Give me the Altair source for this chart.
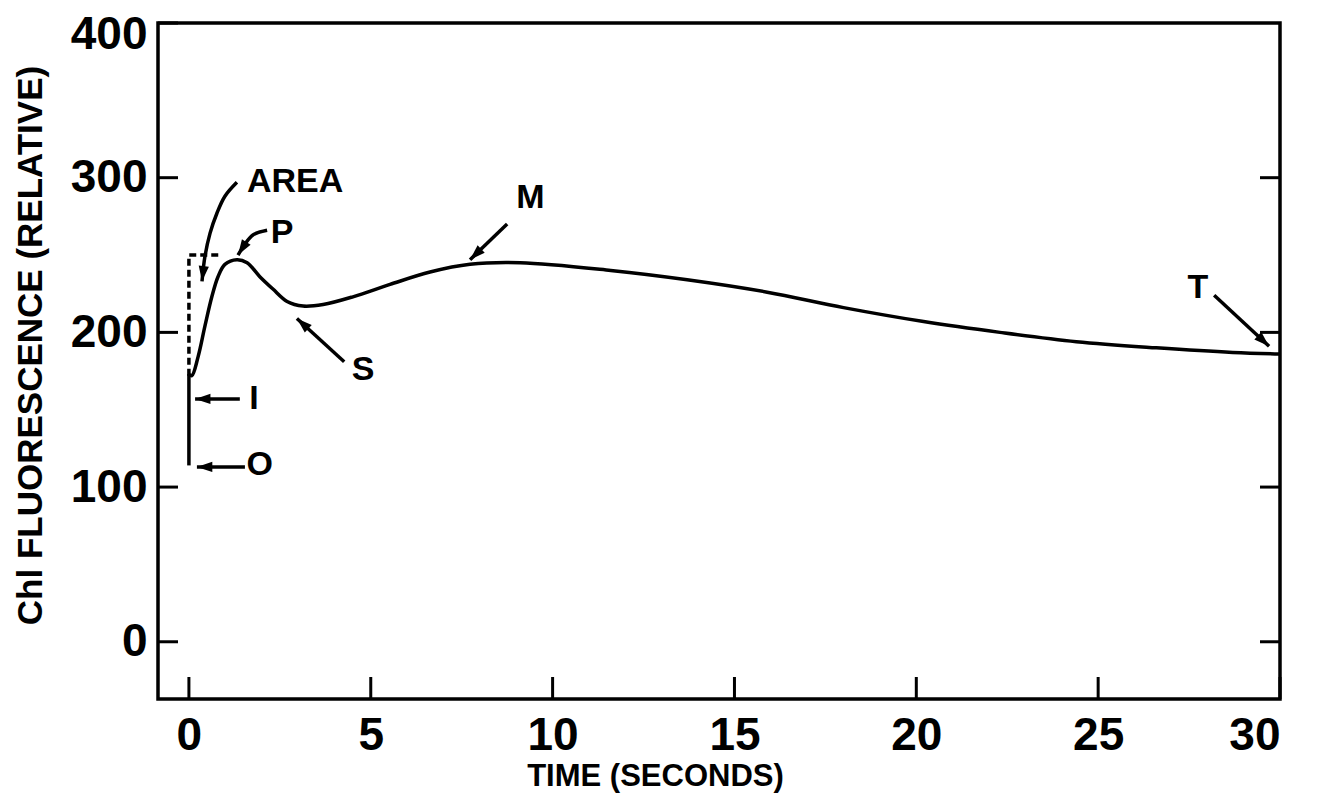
import math
import altair as alt
import pandas as pd

# ---- data ----
# O -> I rise (straight, at t = 0)
oi_t = [0.0, 0.0]
oi_v = [114, 173]
# I -> P -> S -> M -> T
time_s = [0.0, 0.08, 0.25, 0.44, 0.63, 0.80, 0.99, 1.32, 1.60, 1.95, 2.31, 2.70,
          3.14, 3.69, 4.51, 5.53, 6.63, 7.73, 9.11, 11.6, 13.7, 15.9, 18.0, 20.2,
          22.3, 24.4, 26.6, 28.7, 30.0]
fluor = [173, 172, 184, 204, 223, 236, 244, 247, 245, 236, 228, 220,
         217, 218, 223, 231, 239, 244, 245, 240, 234, 226, 216, 207,
         200, 194, 190, 187, 186]

area_t = [0.0, 0.0, 0.9]
area_v = [172, 250, 250]

x_ticks = [0, 5, 10, 15, 20, 25, 30]
y_ticks = [0, 100, 200, 300, 400]
y_ticks_right = [0, 100, 200, 300]

label_text = ["AREA", "P", "M", "S", "I", "O", "T"]
label_t = [2.92, 2.56, 9.39, 4.79, 1.79, 1.95, 27.74]
label_v = [297, 264, 287, 176, 157, 114, 229]

arrow_id = ["AREA"] * 6 + ["P"] * 4 + ["M"] * 2 + ["S"] * 2 + ["I"] * 2 + ["O"] * 2 + ["T"] * 2
arrow_t = [1.32, 0.99, 0.77, 0.58, 0.44, 0.36,
           2.15, 1.76, 1.54, 1.35,
           8.75, 7.73,
           4.27, 2.97,
           1.40, 0.17,
           1.54, 0.22,
           28.19, 29.70]
arrow_v = [297, 288, 277, 264, 249, 233,
           266, 263, 257, 250,
           270, 247,
           181, 209,
           157, 157,
           113, 113,
           224, 191]

# ---- layout ----
W, H = 1122, 676
XD = [-0.85, 30]
YD = [-37, 400]
sx = W / (XD[1] - XD[0])
sy = H / (YD[1] - YD[0])
FONT = "Liberation Sans"

oi_df = pd.DataFrame({"t": oi_t, "v": oi_v, "o": range(len(oi_t))})
curve_df = pd.DataFrame({"t": time_s, "v": fluor, "o": range(len(time_s))})
area_df = pd.DataFrame({"t": area_t, "v": area_v, "o": range(len(area_t))})
arrow_df = pd.DataFrame({"id": arrow_id, "t": arrow_t, "v": arrow_v, "o": range(len(arrow_t))})
label_df = pd.DataFrame({"text": label_text, "t": label_t, "v": label_v})

heads = []
for k in dict.fromkeys(arrow_id):
    sub = arrow_df[arrow_df.id == k]
    t1, v1 = sub.t.iloc[-2], sub.v.iloc[-2]
    t2, v2 = sub.t.iloc[-1], sub.v.iloc[-1]
    dx = (t2 - t1) * sx
    dy = -(v2 - v1) * sy
    ang = math.degrees(math.atan2(dx, -dy)) % 360
    heads.append({"id": k, "t": t2, "v": v2, "ang": ang})
head_df = pd.DataFrame(heads)

xs = alt.Scale(domain=XD, nice=False, zero=False)
ys = alt.Scale(domain=YD, nice=False, zero=False)

base_x = alt.X("t:Q", scale=xs, axis=alt.Axis(
    values=x_ticks, ticks=False, domain=False, grid=False, labelPadding=14,
    labelFontSize=46, labelFont=FONT, labelFontWeight="bold", labelColor="black",
    title="TIME (SECONDS)", titleFont=FONT, titleFontSize=31, titleFontWeight="bold",
    titleColor="black", titleX=497, titleY=86, titleBaseline="alphabetic", titleAlign="center"))
base_y = alt.Y("v:Q", scale=ys, axis=alt.Axis(
    values=y_ticks, ticks=False, domain=False, grid=False, labelPadding=11,
    labelOffset={"condition": {"test": "datum.value == 400", "value": 11}, "value": 0},
    labelFontSize=46, labelFont=FONT, labelFontWeight="bold", labelColor="black",
    title="Chl FLUORESCENCE (RELATIVE)", titleFont=FONT, titleFontSize=35,
    titleFontWeight="bold", titleColor="black", titleAngle=270, titleX=-128, titleY=322,
    titleAlign="center", titleBaseline="middle"))

oi_line = alt.Chart(oi_df).mark_line(color="black", strokeWidth=3.5).encode(
    x=base_x, y=base_y, order="o:Q")

curve = alt.Chart(curve_df).mark_line(color="black", strokeWidth=3.5, interpolate="catmull-rom").encode(
    x=alt.X("t:Q", scale=xs), y=alt.Y("v:Q", scale=ys), order="o:Q")

area = alt.Chart(area_df).mark_line(color="black", strokeWidth=3.5, strokeDash=[7, 4]).encode(
    x=alt.X("t:Q", scale=xs), y=alt.Y("v:Q", scale=ys), order="o:Q")

arrows = alt.Chart(arrow_df).mark_line(color="black", strokeWidth=3.5, interpolate="catmull-rom").encode(
    x=alt.X("t:Q", scale=xs), y=alt.Y("v:Q", scale=ys), detail="id:N", order="o:Q")

heads_layer = alt.Chart(head_df).mark_point(
    shape="M0,0L0.5,1.5L-0.5,1.5Z", filled=True, color="black", opacity=1, size=420, strokeWidth=0).encode(
    x=alt.X("t:Q", scale=xs), y=alt.Y("v:Q", scale=ys), angle=alt.Angle("ang:Q", scale=None))

labels = alt.Chart(label_df).mark_text(
    font=FONT, fontSize=34, fontWeight="bold", color="black", align="center", baseline="middle").encode(
    x=alt.X("t:Q", scale=xs), y=alt.Y("v:Q", scale=ys), text="text:N")

xt_df = pd.DataFrame({"t": x_ticks})
yt_df = pd.DataFrame({"v": y_ticks})
yr_df = pd.DataFrame({"v": y_ticks_right})

x_tick_marks = alt.Chart(xt_df).mark_rule(color="black", strokeWidth=3).encode(
    x=alt.X("t:Q", scale=xs), y=alt.value(H - 22), y2=alt.value(H))
y_tick_marks = alt.Chart(yt_df).mark_rule(color="black", strokeWidth=3).encode(
    y=alt.Y("v:Q", scale=ys), x=alt.value(0), x2=alt.value(20))
yr_tick_marks = alt.Chart(yr_df).mark_rule(color="black", strokeWidth=3).encode(
    y=alt.Y("v:Q", scale=ys), x=alt.value(W - 20), x2=alt.value(W))

chart = alt.layer(
    oi_line, curve, area, arrows, heads_layer, labels, x_tick_marks, y_tick_marks, yr_tick_marks
).properties(
    width=W, height=H,
    autosize=alt.AutoSizeParams(type="none"),
    padding={"left": 150, "top": 15, "right": 20, "bottom": 100},
    background="white",
).configure_view(stroke="black", strokeWidth=3.5)

chart.save("out.html", embed_options={"renderer": "svg", "actions": False})
